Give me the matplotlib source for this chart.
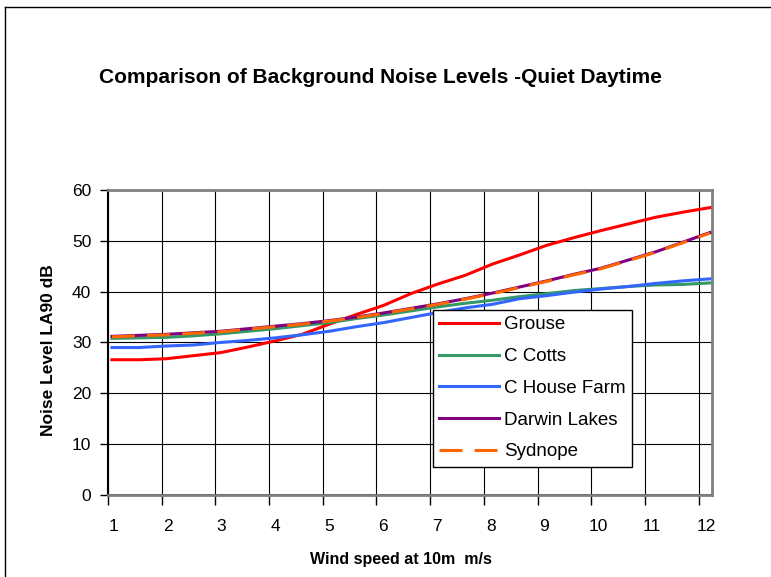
import numpy as np
import matplotlib
matplotlib.use('Agg')
import matplotlib.pyplot as plt
from matplotlib.lines import Line2D

plt.rcParams['font.family'] = ['Liberation Sans', 'DejaVu Sans']

# wind speed (m/s) at 0.5 steps
wind = [1, 1.5, 2, 2.5, 3, 3.5, 4, 4.5, 5, 5.5, 6, 6.5, 7, 7.5, 8, 8.5,
        9, 9.5, 10, 10.5, 11, 11.5, 12]

grouse = [26.6, 26.6, 26.8, 27.4, 28.0, 29.1, 30.3, 31.6, 33.6, 35.5, 37.3,
          39.6, 41.5, 43.2, 45.4, 47.2, 49.1, 50.6, 52.0, 53.3, 54.6, 55.6, 56.5]
c_cotts = [30.8, 30.9, 31.0, 31.3, 31.7, 32.2, 32.7, 33.3, 33.9, 34.7, 35.4,
           36.2, 37.0, 37.7, 38.3, 39.0, 39.6, 40.2, 40.6, 41.0, 41.3, 41.4, 41.7]
c_house = [29.0, 29.0, 29.3, 29.5, 30.0, 30.4, 30.9, 31.5, 32.2, 33.1, 33.9,
           34.9, 35.9, 36.8, 37.5, 38.6, 39.2, 39.9, 40.5, 41.0, 41.6, 42.1, 42.5]
darwin = [31.2, 31.4, 31.6, 31.9, 32.2, 32.7, 33.2, 33.7, 34.3, 35.0, 35.8,
          36.7, 37.6, 38.6, 39.7, 40.9, 42.1, 43.4, 44.6, 46.2, 47.8, 49.7, 51.6]
sydnope = [31.1, 31.3, 31.5, 31.8, 32.1, 32.6, 33.1, 33.6, 34.2, 34.9, 35.7,
           36.6, 37.5, 38.5, 39.6, 40.8, 42.0, 43.3, 44.5, 46.1, 47.7, 49.6, 51.5]

x_labels = [str(i) for i in range(1, 13)]
y_ticks = [0, 10, 20, 30, 40, 50, 60]

fig = plt.figure(figsize=(7.71, 5.77), dpi=100)
ax = fig.add_axes([0.140, 0.142, 0.7835, 0.529])

lw = 2.2
ax.plot(wind, grouse, color='#FF0000', lw=lw, label='Grouse', zorder=3)
ax.plot(wind, c_cotts, color='#339966', lw=lw, label='C Cotts', zorder=3)
ax.plot(wind, c_house, color='#3366FF', lw=lw, label='C House Farm', zorder=3)
ax.plot(wind, darwin, color='#800080', lw=lw, label='Darwin Lakes', zorder=3)
ax.plot(wind, sydnope, color='#FF6600', lw=lw, dashes=(7.5, 4),
        label='Sydnope', zorder=4)

ax.set_xlim(0.926, 12.04)
ax.set_ylim(0, 60)

# category gridlines sit a little left of the labels (excel style)
grid_pos = 0.926 + 0.988 * np.arange(12)
label_pos = 1.036 + 0.99 * np.arange(12)
ax.set_xticks(grid_pos)
ax.set_xticklabels([])
ax.set_xticks(label_pos, minor=True)
ax.set_xticklabels(x_labels, minor=True, fontsize=12.5)
ax.tick_params(axis='x', which='major', direction='out', length=7, width=1)
ax.tick_params(axis='x', which='minor', length=0, pad=17)
ax.set_yticks(y_ticks)
ax.tick_params(axis='y', labelsize=12.5, direction='out', length=6, width=1, pad=6)

ax.grid(True, which='major', color='black', lw=0.8, zorder=1)
for side in ['top', 'right', 'bottom']:
    ax.spines[side].set_color('#808080')
    ax.spines[side].set_linewidth(2)
ax.spines['left'].set_color('black')
ax.spines['left'].set_linewidth(1.5)
ax.axhline(0, color='black', lw=1.2, zorder=2)

ax.set_xlabel('Wind speed at 10m  m/s', fontsize=11.5, fontweight='bold')
ax.xaxis.set_label_coords(0.485, -0.185)
ax.set_ylabel('Noise Level LA90 dB', fontsize=12.5, fontweight='bold')
ax.yaxis.set_label_coords(-0.086, 0.475)

fig.text(0.493, 0.865, 'Comparison of Background Noise Levels -Quiet Daytime',
         ha='center', va='center', fontsize=15, fontweight='bold')

leg = ax.legend(loc='upper left', bbox_to_anchor=(0.538, 0.607), fontsize=13.5,
                frameon=True, fancybox=False, edgecolor='black', framealpha=1,
                handlelength=3.2, handletextpad=0.25, labelspacing=0.78,
                borderpad=0.35, borderaxespad=0)
leg.get_frame().set_linewidth(1)

# outer chart frame (cut off at right and bottom)
fig.add_artist(Line2D([5 / 771, 5 / 771], [0, 1 - 7 / 577], color='black', lw=1))
fig.add_artist(Line2D([5 / 771, 1], [1 - 7 / 577, 1 - 7 / 577], color='black', lw=1))

fig.savefig('out.png', dpi=100)
